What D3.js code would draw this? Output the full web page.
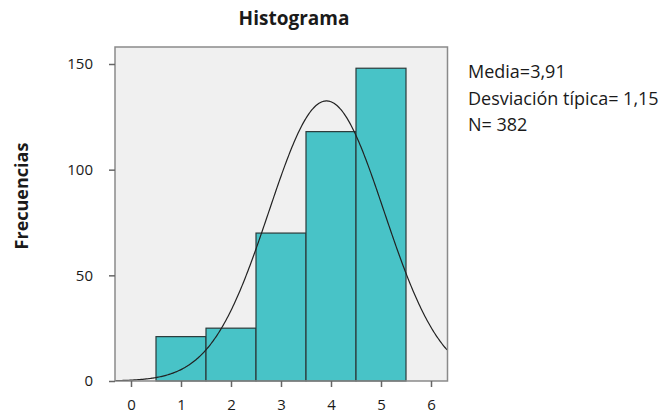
<!DOCTYPE html>
<html>
<head>
<meta charset="utf-8">
<script src="https://cdn.jsdelivr.net/npm/d3@7"></script>
<style>
  html, body { margin: 0; padding: 0; background: #fff; }
  svg { display: block; }
  text { font-family: "Open Sans", sans-serif; fill: #1a1a1a; }
</style>
</head>
<body>
<svg id="chart" width="669" height="414"></svg>
<script>
// Histogram bins (class centre) and their frequencies
const binCenters = [1, 2, 3, 4, 5];
const frequencies = [21, 25, 70, 118, 148];
const xTicks = [0, 1, 2, 3, 4, 5, 6];
const yTicks = [0, 50, 100, 150];
const mean = 3.91;
const sd = 1.15;
const n = 382;
const statsLines = ["Media=3,91", "Desviación típica= 1,15", "N= 382"];

const svg = d3.select("#chart");
const plot = { left: 115, right: 447.5, top: 47, bottom: 381 };

const x = d3.scaleLinear().domain([0, 6]).range([131, 431]);
const y = d3.scaleLinear().domain([0, 150]).range([381, 64]);

// Panel background
svg.append("rect")
  .attr("x", plot.left).attr("y", plot.top)
  .attr("width", plot.right - plot.left).attr("height", plot.bottom - plot.top)
  .attr("fill", "#f0f0f0");

svg.append("defs").append("clipPath").attr("id", "panel")
  .append("rect")
  .attr("x", plot.left).attr("y", plot.top)
  .attr("width", plot.right - plot.left).attr("height", plot.bottom - plot.top);

// Bars
svg.append("g").selectAll("rect")
  .data(binCenters.map((c, i) => ({ c, f: frequencies[i] })))
  .join("rect")
  .attr("x", d => x(d.c - 0.5))
  .attr("y", d => y(d.f))
  .attr("width", d => x(d.c + 0.5) - x(d.c - 0.5))
  .attr("height", d => y(0) - y(d.f))
  .attr("fill", "#48c3c7")
  .attr("stroke", "#2b3a3a")
  .attr("stroke-width", 1.2);

// Fitted normal curve scaled to counts (bin width 1)
const pdf = v => n * Math.exp(-0.5 * ((v - mean) / sd) ** 2) / (sd * Math.sqrt(2 * Math.PI));
const xs = d3.range(x.invert(plot.left), x.invert(plot.right) + 0.01, 0.02);
svg.append("path")
  .attr("clip-path", "url(#panel)")
  .datum(xs)
  .attr("fill", "none")
  .attr("stroke", "#222")
  .attr("stroke-width", 1.2)
  .attr("d", d3.line().x(d => x(d)).y(d => y(pdf(d))));

// Panel border
svg.append("rect")
  .attr("x", plot.left).attr("y", plot.top)
  .attr("width", plot.right - plot.left).attr("height", plot.bottom - plot.top)
  .attr("fill", "none")
  .attr("stroke", "#8a8a8a")
  .attr("stroke-width", 1.5);

// Axes
const yAxis = svg.append("g")
  .attr("transform", `translate(${plot.left},0)`)
  .call(d3.axisLeft(y).tickValues(yTicks).tickSize(6).tickPadding(16).tickFormat(d3.format("d")));
const xAxis = svg.append("g")
  .attr("transform", `translate(0,${plot.bottom})`)
  .call(d3.axisBottom(x).tickValues(xTicks).tickSize(6).tickPadding(12).tickFormat(d3.format("d")));
[yAxis, xAxis].forEach(a => {
  a.select(".domain").remove();
  a.selectAll(".tick line").attr("stroke", "#666").attr("stroke-width", 1.5);
  a.selectAll(".tick text").style("font-size", "15px").attr("fill", "#1a1a1a");
});

// Title and axis title
svg.append("text")
  .attr("x", 294).attr("y", 25)
  .attr("text-anchor", "middle")
  .style("font-size", "19px").style("font-weight", "bold")
  .text("Histograma");

svg.append("text")
  .attr("transform", "translate(28,196) rotate(-90)")
  .attr("text-anchor", "middle")
  .style("font-size", "18px").style("font-weight", "bold")
  .text("Frecuencias");

// Summary statistics
svg.append("g").selectAll("text")
  .data(statsLines)
  .join("text")
  .attr("x", 468)
  .attr("y", (d, i) => 78 + i * 26.5)
  .style("font-size", "18px")
  .text(d => d);
</script>
</body>
</html>
